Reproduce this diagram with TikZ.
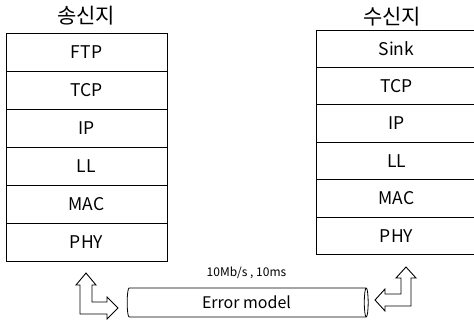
\documentclass[tikz,border=0pt]{standalone}
\usepackage{fontspec}
\setmainfont{Noto Sans CJK KR}
\usetikzlibrary{positioning,shapes.geometric}

\tikzset{
  layer/.style={draw, line width=0.8pt, minimum width=161pt, minimum height=38pt,
    inner sep=0pt, outer sep=0pt, font=\fontsize{17.5}{19}\selectfont},
  rlayer/.style={layer, minimum height=37.4pt},
  title/.style={font=\fontsize{21}{23}\selectfont},
  link/.style={draw, line width=0.8pt, cylinder, aspect=0.3,
    minimum width=29pt, minimum height=241pt, inner sep=0pt, outer sep=0pt,
    font=\fontsize{16}{18}\selectfont},
  block/.style={draw, line width=0.9pt, fill=white, line join=miter}
}

\begin{document}
\begin{tikzpicture}[x=1pt,y=-1pt]
\useasboundingbox (0,0) rectangle (474,322);
\clip (0,0) rectangle (474,322);

% sender
\node[title] (stitle) at (86,16) {송신지};
\node[layer] (sftp) at (86.5,52) {FTP};
\node[layer, below=0pt of sftp] (stcp) {TCP};
\node[layer, below=0pt of stcp] (sip) {IP};
\node[layer, below=0pt of sip] (sll) {LL};
\node[layer, below=0pt of sll] (smac) {MAC};
\node[layer, below=0pt of smac] (sphy) {PHY};

% receiver
\node[title] (rtitle) at (392,17) {수신지};
\node[rlayer] (rsink) at (396.5,48.7) {Sink};
\node[rlayer, below=0pt of rsink] (rtcp) {TCP};
\node[rlayer, below=0pt of rtcp] (rip) {IP};
\node[rlayer, below=0pt of rip] (rll) {LL};
\node[rlayer, below=0pt of rll] (rmac) {MAC};
\node[rlayer, below=0pt of rmac] (rphy) {PHY};

% link
\node[link] (err) at (246.5,302.5) {Error model};
\node[font=\fontsize{12}{14}\selectfont, above=6pt of err] (rate) {10Mb/s , 10ms};

% hollow arrows
\draw[block] (86,273) -- (96,285) -- (92,285) -- (92,302) -- (107,302) -- (107,297)
  -- (118,308) -- (107,319) -- (107,314) -- (80,314) -- (80,285) -- (76,285) -- cycle;
\draw[block] (406,267) -- (416,278) -- (411,278) -- (411,306) -- (385,306) -- (385,311)
  -- (375,300) -- (385,289) -- (385,294) -- (401,294) -- (401,278) -- (396,278) -- cycle;
\end{tikzpicture}
\end{document}
